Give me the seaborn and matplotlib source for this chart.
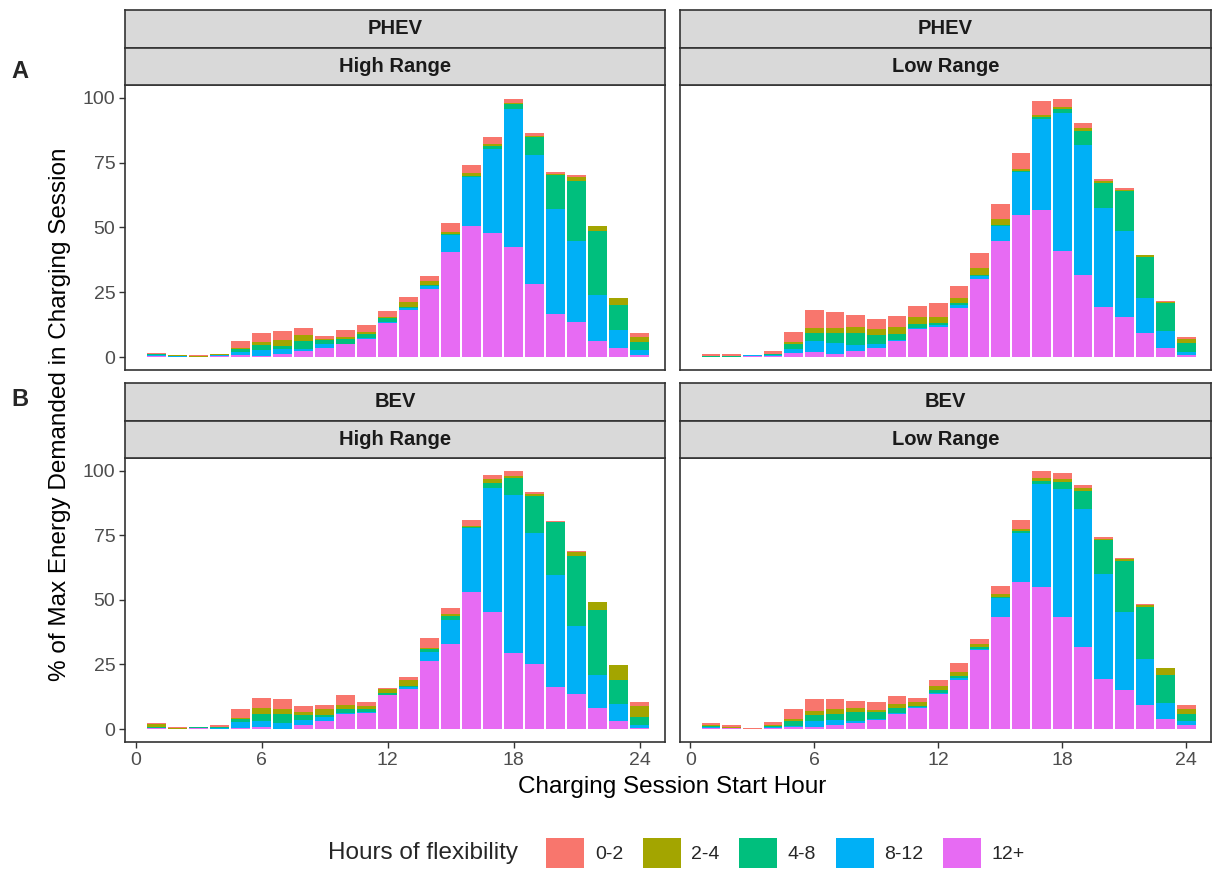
import numpy as np
import pandas as pd
import matplotlib
matplotlib.use('Agg')
import matplotlib.pyplot as plt
import seaborn as sns
from matplotlib.patches import Patch

sns.set_theme(style='white')
plt.rcParams['font.family'] = ['Liberation Sans', 'DejaVu Sans']

hours = list(range(1, 25))
flex_levels = ['0-2', '2-4', '4-8', '8-12', '12+']
colors = ['#F8766D', '#A3A500', '#00BF7D', '#00B0F6', '#E76BF3']

# PHEV - High Range
phev_high_02 = [0.3, 0.3, 0.1, 0.3, 2.7, 3.3, 3.3, 2.8, 1.4, 2.6, 2.6, 2.3, 1.9, 2.1, 3.2, 3.2, 2.7, 1.5, 1.0, 0.8, 0.8, 0.2, 0.0, 1.8]
phev_high_24 = [0.2, 0.2, 0.4, 0.2, 0.4, 1.3, 2.4, 2.3, 0.4, 0.6, 0.8, 0.5, 1.8, 1.4, 0.8, 1.3, 0.8, 0.4, 0.6, 0.5, 1.7, 1.9, 3.0, 1.7]
phev_high_48 = [0.4, 0.1, 0.0, 0.2, 1.2, 1.7, 1.3, 3.1, 1.4, 1.9, 1.5, 1.3, 0.5, 0.4, 0.5, 0.4, 0.8, 1.9, 6.8, 13.1, 23.0, 24.5, 9.5, 3.1]
phev_high_812 = [0.3, 0.1, 0.1, 0.3, 1.0, 2.3, 1.8, 0.8, 1.4, 0.3, 0.4, 0.4, 0.8, 1.3, 6.6, 18.7, 32.4, 53.2, 49.8, 40.4, 31.1, 17.8, 6.8, 1.9]
phev_high_12p = [0.3, 0.2, 0.0, 0.3, 0.9, 0.5, 1.2, 2.2, 3.6, 4.9, 7.1, 13.3, 18.1, 26.1, 40.5, 50.6, 48.0, 42.5, 28.1, 16.6, 13.6, 6.2, 3.6, 0.9]

# PHEV - Low Range
phev_low_02 = [0.8, 0.9, 0.0, 1.0, 3.9, 6.7, 5.9, 4.9, 4.1, 4.5, 4.2, 5.5, 4.5, 5.5, 6.0, 5.9, 5.3, 3.1, 2.1, 0.8, 0.5, 0.0, 0.4, 0.9]
phev_low_24 = [0.2, 0.1, 0.0, 0.0, 0.6, 2.2, 1.9, 2.2, 2.3, 2.4, 2.4, 2.3, 1.9, 2.8, 2.3, 0.9, 0.8, 0.6, 0.9, 0.6, 0.6, 0.8, 0.6, 1.3]
phev_low_48 = [0.1, 0.1, 0.0, 0.4, 2.2, 3.1, 4.0, 4.8, 3.5, 2.6, 1.8, 0.9, 1.0, 0.4, 0.4, 0.6, 0.9, 1.7, 5.4, 9.9, 15.3, 15.7, 10.7, 3.6]
phev_low_812 = [0.1, 0.1, 0.3, 0.5, 1.5, 4.1, 4.1, 2.2, 1.3, 0.4, 0.4, 0.6, 1.2, 1.3, 5.8, 16.5, 35.0, 53.2, 50.2, 38.1, 33.1, 13.8, 6.7, 1.0]
phev_low_12p = [0.1, 0.1, 0.3, 0.4, 1.5, 1.9, 1.3, 2.3, 3.6, 6.0, 10.7, 11.6, 18.8, 30.0, 44.7, 54.7, 56.6, 40.9, 31.7, 19.3, 15.6, 9.1, 3.3, 0.9]

# BEV - High Range
bev_high_02 = [0.4, 0.4, 0.1, 0.4, 3.3, 4.1, 4.1, 2.1, 1.5, 3.5, 1.3, 0.5, 0.9, 3.6, 2.2, 2.2, 1.7, 1.9, 0.9, 0.4, 0.3, 0.0, 0.0, 1.3]
bev_high_24 = [0.9, 0.3, 0.1, 0.3, 0.4, 2.1, 1.7, 1.4, 2.2, 1.7, 1.3, 1.7, 2.6, 0.6, 0.8, 0.5, 1.5, 0.8, 0.6, 0.0, 1.7, 3.2, 5.8, 4.5]
bev_high_48 = [0.3, 0.0, 0.1, 0.2, 1.3, 2.8, 3.5, 1.8, 1.0, 1.7, 0.9, 0.5, 0.3, 0.9, 1.7, 0.3, 1.9, 6.7, 14.5, 20.3, 27.0, 25.1, 9.3, 3.2]
bev_high_812 = [0.3, 0.1, 0.3, 0.3, 2.2, 2.3, 2.3, 2.1, 1.3, 0.4, 0.4, 0.3, 0.6, 3.5, 9.0, 25.0, 47.9, 60.9, 50.6, 43.6, 26.4, 12.9, 6.8, 1.0]
bev_high_12p = [0.3, 0.1, 0.3, 0.2, 0.4, 0.9, 0.2, 1.5, 3.2, 5.7, 6.4, 13.0, 15.6, 26.5, 33.1, 52.9, 45.4, 29.6, 25.1, 16.2, 13.5, 8.1, 3.0, 0.4]

# BEV - Low Range
bev_low_02 = [0.8, 0.6, 0.1, 1.3, 3.6, 4.8, 3.9, 2.8, 3.0, 3.2, 1.8, 2.4, 3.5, 2.1, 3.2, 3.5, 3.0, 2.2, 1.0, 0.6, 0.5, 0.4, 0.0, 1.4]
bev_low_24 = [0.5, 0.4, 0.1, 0.3, 0.8, 1.5, 1.7, 1.4, 0.8, 1.3, 1.3, 1.4, 1.5, 0.9, 1.0, 0.6, 0.9, 1.3, 1.2, 0.6, 0.5, 0.6, 2.8, 1.9]
bev_low_48 = [0.3, 0.0, 0.0, 0.4, 1.9, 2.3, 2.4, 3.5, 2.8, 1.9, 0.6, 1.3, 1.0, 1.0, 0.6, 0.8, 1.2, 2.8, 7.2, 13.0, 19.8, 20.2, 10.8, 3.0]
bev_low_812 = [0.3, 0.0, 0.0, 0.4, 0.4, 2.3, 1.9, 1.0, 0.4, 0.4, 0.3, 0.3, 0.6, 0.4, 7.2, 18.8, 39.8, 49.4, 53.3, 40.7, 30.1, 17.9, 6.0, 1.3]
bev_low_12p = [0.5, 0.4, 0.1, 0.4, 0.9, 0.9, 1.7, 2.2, 3.5, 6.0, 8.1, 13.5, 19.0, 30.5, 43.4, 57.1, 55.1, 43.4, 31.7, 19.3, 15.3, 9.3, 4.0, 1.7]

x_ticks = [0, 6, 12, 18, 24]
y_ticks = [0, 25, 50, 75, 100]

W, H = 1213, 869
fig = plt.figure(figsize=(W / 100, H / 100), dpi=100)
fig.patch.set_facecolor('white')


def box(l, t, r, b):
    return [l / W, 1 - b / H, (r - l) / W, (b - t) / H]


panels = [
    ('PHEV', 'High Range', [phev_high_02, phev_high_24, phev_high_48, phev_high_812, phev_high_12p], (125, 85, 665, 370), True, False),
    ('PHEV', 'Low Range', [phev_low_02, phev_low_24, phev_low_48, phev_low_812, phev_low_12p], (680, 85, 1211, 370), False, False),
    ('BEV', 'High Range', [bev_high_02, bev_high_24, bev_high_48, bev_high_812, bev_high_12p], (125, 458, 665, 742), True, True),
    ('BEV', 'Low Range', [bev_low_02, bev_low_24, bev_low_48, bev_low_812, bev_low_12p], (680, 458, 1211, 742), False, True),
]

edge = '#333333'
for veh, rng, series, (l, t, r, b), show_y, show_x in panels:
    df = pd.DataFrame({
        'hour': np.tile(hours, len(flex_levels)),
        'flex': np.repeat(flex_levels, len(hours)),
        'value': np.concatenate(series),
    })
    ax = fig.add_axes(box(l, t, r, b))
    sns.histplot(data=df, x='hour', weights='value', hue='flex', hue_order=flex_levels,
                 palette=colors, multiple='stack', discrete=True, shrink=0.9,
                 alpha=1, linewidth=0, legend=False, ax=ax)
    ax.set_xlim(-0.5, 25.2)
    ax.set_ylim(-4.995, 104.9)
    ax.set_xlabel('')
    ax.set_ylabel('')
    ax.set_facecolor('white')
    for s in ax.spines.values():
        s.set_color(edge)
        s.set_linewidth(1.2)
    ax.set_yticks(y_ticks)
    ax.set_xticks(x_ticks)
    ax.tick_params(axis='both', direction='out', length=4, width=1, color=edge,
                   labelcolor='#4D4D4D', labelsize=14, pad=3)
    ax.tick_params(axis='y', left=show_y, labelleft=show_y)
    ax.tick_params(axis='x', bottom=show_x, labelbottom=show_x)
    ax.grid(False)

    # strips
    strip_h = (t - 10) / 2 if t < 200 else (t - 383) / 2
    top0 = t - 2 * strip_h
    for i, txt in enumerate([veh, rng]):
        sax = fig.add_axes(box(l, top0 + i * strip_h, r, top0 + (i + 1) * strip_h))
        sax.set_facecolor('#D9D9D9')
        sax.set_xticks([])
        sax.set_yticks([])
        for s in sax.spines.values():
            s.set_color(edge)
            s.set_linewidth(1.2)
        sax.text(0.5, 0.5, txt, ha='center', va='center', fontsize=14.5,
                 fontweight='bold', color='#1A1A1A', transform=sax.transAxes)

fig.text(20 / W, 1 - 72 / H, 'A', fontsize=17, fontweight='bold', ha='center', va='center')
fig.text(20 / W, 1 - 400 / H, 'B', fontsize=17, fontweight='bold', ha='center', va='center')

fig.text(60 / W, 1 - 414 / H, '% of Max Energy Demanded in Charging Session', rotation=90,
         fontsize=17.5, ha='center', va='center', color='black')
fig.text(672 / W, 1 - 787 / H, 'Charging Session Start Hour', fontsize=17.5,
         ha='center', va='center', color='black')

handles = [Patch(facecolor=c, edgecolor='none') for c in colors]
fig.text(518 / W, 1 - 853 / H, 'Hours of flexibility', fontsize=17.5, ha='right', va='center')
fig.legend(handles, flex_levels, loc='center left', bbox_to_anchor=(546 / W, 1 - 853 / H),
           ncol=5, frameon=False, fontsize=14, handlelength=1.96, handleheight=1.96,
           handletextpad=0.55, columnspacing=1.0, borderaxespad=0, borderpad=0)

fig.savefig('out.png', dpi=100, facecolor='white')
